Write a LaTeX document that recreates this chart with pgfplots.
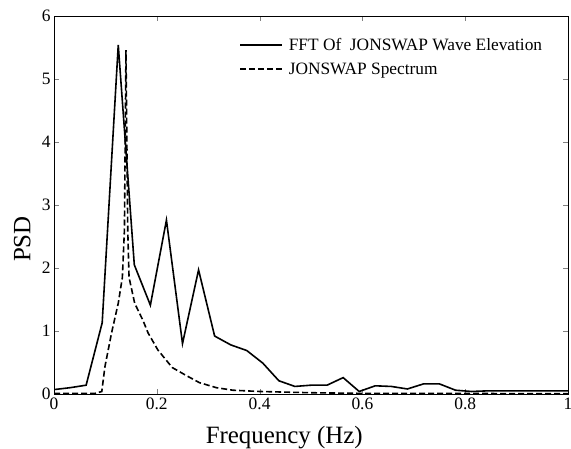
\documentclass[border=0pt]{standalone}
\usepackage{fontspec}
\setmainfont{Liberation Serif}
\usepackage{pgfplots}
\pgfplotsset{compat=1.18}
\begin{document}
\begin{tikzpicture}
\begin{axis}[
  name=ax,
  scale only axis,
  width=514bp, height=378bp,
  xmin=0, xmax=1, ymin=0, ymax=6,
  xtick={0,0.2,0.4,0.6,0.8,1},
  ytick={0,1,2,3,4,5,6},
  /pgf/number format/assume math mode=true,
  xticklabel={\pgfmathprintnumber{\tick}},
  yticklabel={\pgfmathprintnumber{\tick}},
  tick label style={font=\fontsize{17.5}{20}\selectfont},
  tick align=inside,
  major tick length=5bp,
  axis line style={line width=0.8bp},
  xlabel={Frequency (Hz)},
  ylabel={PSD},
  xlabel style={font=\fontsize{25}{29}\selectfont, at={(axis description cs:0.448,-0.114)}, anchor=center},
  ylabel style={font=\fontsize{25}{29}\selectfont, at={(axis description cs:-0.062,0.41)}, anchor=center, rotate=0},
  legend style={draw=none, fill=none, at={(rel axis cs:0.36,0.948)}, anchor=north west,
    font=\fontsize{17.4}{20}\selectfont, inner sep=0pt, row sep=7bp},
  legend cell align=left,
  legend image code/.code={\draw[#1] (0bp,0bp) -- (42bp,0bp); \path (46bp,0bp);},
]
\addplot[black, line width=1.6bp] coordinates {
(0,0.07) (0.03125,0.10) (0.0625,0.14) (0.09375,1.13) (0.125,5.54)
(0.15625,2.05) (0.1875,1.41) (0.21875,2.76) (0.25,0.80) (0.28125,1.97)
(0.3125,0.92) (0.34375,0.78) (0.375,0.69) (0.40625,0.49) (0.4375,0.21)
(0.46875,0.12) (0.5,0.14) (0.53125,0.14) (0.5625,0.26) (0.59375,0.04)
(0.625,0.13) (0.65625,0.12) (0.6875,0.08) (0.71875,0.16) (0.75,0.16)
(0.78125,0.06) (0.8125,0.04) (0.84375,0.05) (0.875,0.05) (0.90625,0.05)
(0.9375,0.05) (0.96875,0.05) (1.0,0.05)
};
\addlegendentry{FFT Of\ \ JONSWAP Wave Elevation}
\addplot[black, line width=1.6bp, dash pattern=on 6bp off 3bp] coordinates {
(0,0.01) (0.08,0.01) (0.093,0.04) (0.099,0.43) (0.112,0.97) (0.125,1.44)
(0.133,1.85) (0.137,2.6) (0.140,5.46) (0.1435,2.6) (0.146,1.85)
(0.157,1.44) (0.173,1.17) (0.183,0.97) (0.202,0.70) (0.23,0.42)
(0.258,0.29) (0.283,0.18) (0.316,0.10) (0.348,0.06) (0.4,0.04)
(0.5,0.02) (0.6,0.01) (0.8,0.008) (1.0,0.005)
};
\addlegendentry{JONSWAP Spectrum}
\end{axis}
\pgfresetboundingbox
\path[use as bounding box] ([xshift=-54bp,yshift=-55bp]ax.south west) rectangle ([xshift=3bp,yshift=16bp]ax.north east);
\end{tikzpicture}
\end{document}
